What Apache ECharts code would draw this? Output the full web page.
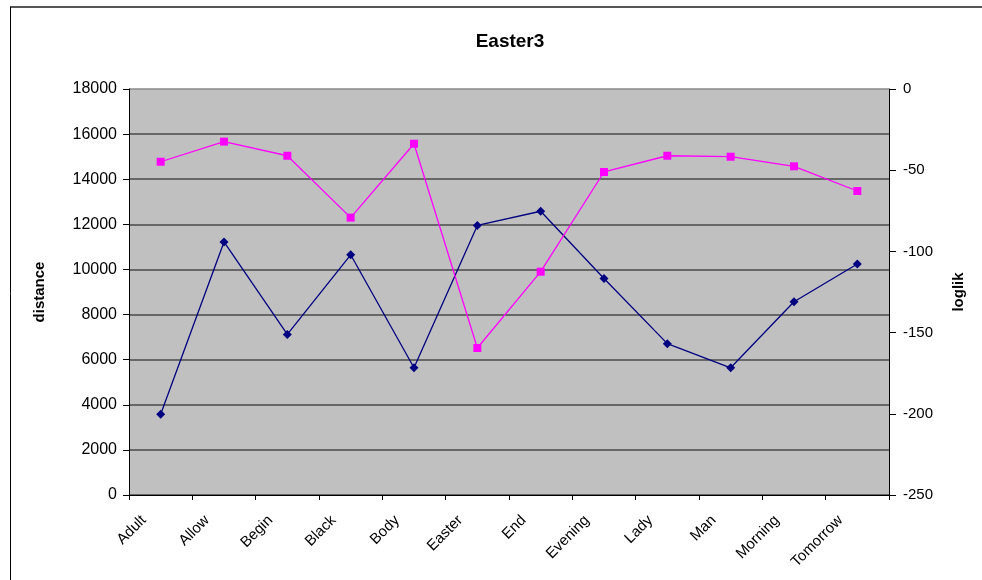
<!DOCTYPE html>
<html>
<head>
<meta charset="utf-8">
<title>Easter3</title>
<script src="https://cdn.jsdelivr.net/npm/echarts@6/dist/echarts.min.js"></script>
<style>
  html, body { margin: 0; padding: 0; background: #fff; }
  #chart { width: 982px; height: 580px; }
</style>
</head>
<body>
<div id="chart"></div>
<script>
// Words and their two measures
const categories = ['Adult', 'Allow', 'Begin', 'Black', 'Body', 'Easter', 'End', 'Evening', 'Lady', 'Man', 'Morning', 'Tomorrow'];
const distance = [3580, 11220, 7120, 10650, 5640, 11950, 12580, 9600, 6710, 5640, 8570, 10240];
const loglik = [-44.8, -32.4, -41.1, -79.2, -33.7, -159.5, -112.5, -51.1, -41.1, -41.7, -47.6, -62.8];

const leftTicks = { min: 0, max: 18000, interval: 2000 };
const rightTicks = { min: -250, max: 0, interval: 50 };

const FONT = 'Liberation Sans, Arial, sans-serif';

const chart = echarts.init(document.getElementById('chart'), null, { renderer: 'canvas' });

// one dark line per 2000 step, the top edge a lighter grey
const splitColors = [];
for (let v = leftTicks.min; v <= leftTicks.max; v += leftTicks.interval) {
  splitColors.push(v === leftTicks.max ? '#8a8a8a' : '#4a4a4a');
}

const plain = v => String(v);

chart.setOption({
  animation: false,
  backgroundColor: '#ffffff',
  textStyle: { fontFamily: FONT },
  title: {
    text: 'Easter3',
    left: 505,
    top: 27,
    textAlign: 'center',
    textStyle: { fontFamily: FONT, fontSize: 19, fontWeight: 'bold', color: '#000' }
  },
  grid: {
    left: 129, right: 93, top: 89, bottom: 85,
    show: true,
    backgroundColor: '#c0c0c0',
    borderWidth: 0
  },
  xAxis: {
    type: 'category',
    data: categories,
    boundaryGap: true,
    axisLine: { show: true, lineStyle: { color: '#000', width: 1 } },
    axisTick: { show: true, length: 5, alignWithLabel: false, lineStyle: { color: '#000' } },
    axisLabel: {
      rotate: 45,
      interval: 0,
      margin: 6,
      padding: [0, 24, 8, 0],
      fontSize: 15,
      fontFamily: FONT,
      color: '#000'
    },
    splitLine: { show: false }
  },
  yAxis: [
    {
      type: 'value',
      min: leftTicks.min, max: leftTicks.max, interval: leftTicks.interval,
      name: 'distance',
      nameLocation: 'middle',
      nameGap: 82,
      nameRotate: 90,
      nameTextStyle: { fontFamily: FONT, fontSize: 15, fontWeight: 'bold', color: '#000' },
      axisLine: { show: true, lineStyle: { color: '#000', width: 1 } },
      axisTick: { show: true, length: 6, lineStyle: { color: '#000' } },
      axisLabel: { margin: 12, fontSize: 16, fontFamily: FONT, color: '#000', formatter: plain },
      splitLine: { show: true, lineStyle: { color: splitColors, width: 1.5 } }
    },
    {
      type: 'value',
      position: 'right',
      min: rightTicks.min, max: rightTicks.max, interval: rightTicks.interval,
      name: 'loglik',
      nameLocation: 'middle',
      nameGap: 62,
      nameRotate: 90,
      nameTextStyle: { fontFamily: FONT, fontSize: 15, fontWeight: 'bold', color: '#000' },
      axisLine: { show: true, lineStyle: { color: '#000', width: 1 } },
      axisTick: { show: true, length: 7, lineStyle: { color: '#000' } },
      axisLabel: { margin: 14, fontSize: 15, fontFamily: FONT, color: '#000', formatter: plain },
      splitLine: { show: false }
    }
  ],
  series: [
    {
      name: 'distance',
      type: 'line',
      yAxisIndex: 0,
      data: distance,
      symbol: 'diamond',
      symbolSize: 9,
      lineStyle: { color: '#000080', width: 1.3 },
      itemStyle: { color: '#000080' },
      z: 3
    },
    {
      name: 'loglik',
      type: 'line',
      yAxisIndex: 1,
      data: loglik,
      symbol: 'rect',
      symbolSize: 8,
      lineStyle: { color: '#ff00ff', width: 1.3 },
      itemStyle: { color: '#ff00ff' },
      z: 3
    }
  ],
  graphic: [
    { type: 'line', shape: { x1: 10, y1: 7, x2: 982, y2: 7 }, style: { stroke: '#555', lineWidth: 2 } },
    { type: 'line', shape: { x1: 10.5, y1: 7, x2: 10.5, y2: 580 }, style: { stroke: '#000', lineWidth: 1 } }
  ]
});
</script>
</body>
</html>
